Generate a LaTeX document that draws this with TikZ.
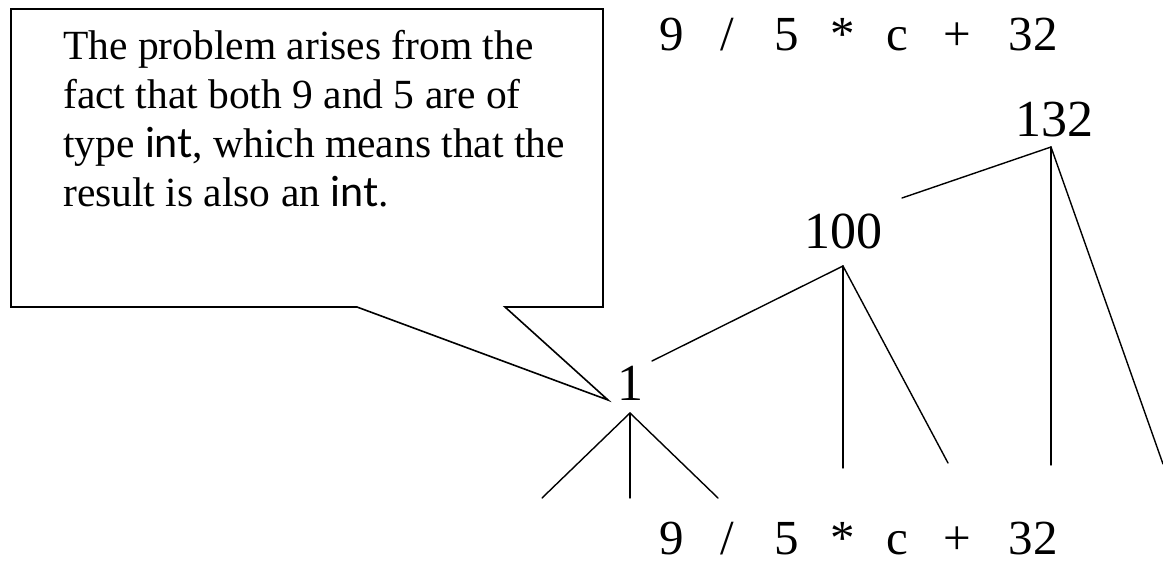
\documentclass[tikz,border=0pt]{standalone}
\usepackage{fontspec}
\setmainfont{Liberation Serif}
\newfontfamily\intfont{Lato}
\begin{document}
\begin{tikzpicture}[x=1pt,y=-1pt,
  tok/.style={font=\fontsize{49}{58}\selectfont, inner sep=0pt, anchor=base},
  val/.style={font=\fontsize{52}{62}\selectfont, inner sep=0pt, anchor=base},
  edge/.style={line width=1.4pt, line cap=round},
  callout/.style={line width=1.6pt, line join=miter, fill=white}]
\useasboundingbox[fill=white] (0,0) rectangle (1163,566);

% callout
\draw[callout] (11,9) -- (603,9) -- (603,307) -- (505,307) -- (608,400)
  -- (357,307) -- (11,307) -- cycle;
\node[anchor=base west, align=left, inner sep=0pt,
  font=\fontsize{41.5}{48.7}\selectfont] (note) at (63,206)
  {The problem arises from the\\fact that both 9 and 5 are of\\type {\intfont int}, which means that the\\result is also an {\intfont int}.};

% top expression
\node[tok] (t9) at (672,50) {9};
\node[tok] (tsl) at (727,50) {/};
\node[tok] (t5) at (787,50) {5};
\node[tok] (tst) at (843,50) {*};
\node[tok] (tc) at (897,50) {c};
\node[tok] (tpl) at (957,50) {+};
\node[tok] (t32) at (1033,50) {32};

% bottom expression
\node[tok] (b9) at (672,554) {9};
\node[tok] (bsl) at (727,554) {/};
\node[tok] (b5) at (787,554) {5};
\node[tok] (bst) at (843,554) {*};
\node[tok] (bc) at (897,554) {c};
\node[tok] (bpl) at (957,554) {+};
\node[tok] (b32) at (1033,554) {32};

% values
\node[val] (v1) at (630,400) {1};
\node[val] (v100) at (843,248) {100};
\node[val] (v132) at (1054,136) {132};

% coordinates
\coordinate (a1) at (630,413);
\coordinate (a100) at (843,266);
\coordinate (a132) at (1051,147);
\coordinate (l1) at (542,498);
\coordinate (m1) at (630,498);
\coordinate (r1) at (718,498);
\coordinate (s1) at (652,361);
\coordinate (m100) at (843,468);
\coordinate (r100) at (948,463);
\coordinate (s100) at (902,198);
\coordinate (m132) at (1051,465);
\coordinate (r132) at (1163,464);

\draw[edge] (a1) -- (l1);
\draw[edge] (a1) -- (m1);
\draw[edge] (a1) -- (r1);
\draw[edge] (s1) -- (a100);
\draw[edge] (a100) -- (m100);
\draw[edge] (a100) -- (r100);
\draw[edge] (s100) -- (a132);
\draw[edge] (a132) -- (m132);
\draw[edge] (a132) -- (r132);
\end{tikzpicture}
\end{document}
